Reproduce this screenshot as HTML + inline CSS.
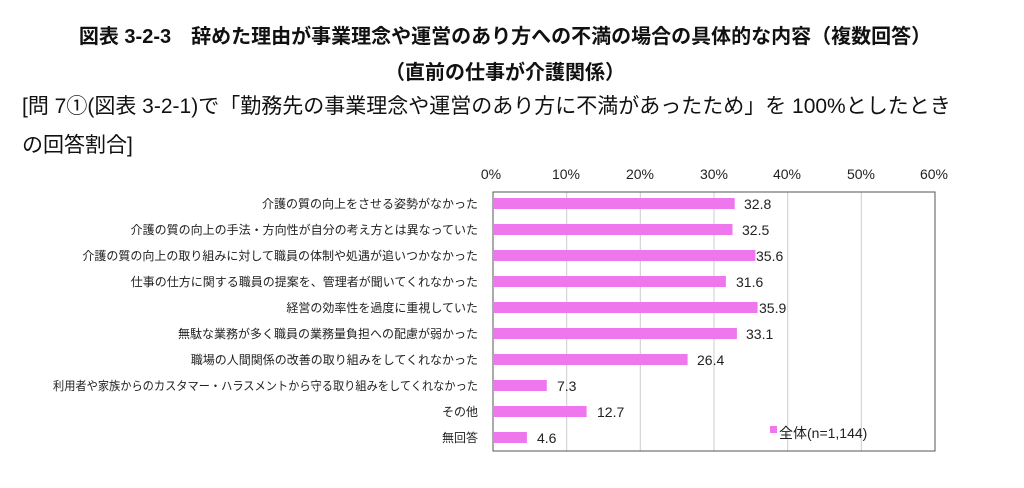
<!DOCTYPE html>
<html><head><meta charset="utf-8"><style>
body{margin:0;width:1024px;height:488px;background:#fff;font-family:"Liberation Sans","Noto Sans CJK JP",sans-serif;color:#111;position:relative;overflow:hidden}
.t{position:absolute;white-space:nowrap}
</style></head><body>
<div class="t" style="left:0;width:1010px;text-align:center;top:20px;font-size:20px;font-weight:bold">図表 3-2-3　辞めた理由が事業理念や運営のあり方への不満の場合の具体的な内容（複数回答）</div>
<div class="t" style="left:0;width:1010px;text-align:center;top:56px;font-size:20px;font-weight:bold">（直前の仕事が介護関係）</div>
<div class="t" style="left:22px;top:90px;font-size:21px">[問 7①(図表 3-2-1)で「勤務先の事業理念や運営のあり方に不満があったため」を 100%としたとき</div>
<div class="t" style="left:22px;top:129px;font-size:21px">の回答割合]</div>
<svg width="1024" height="488" style="position:absolute;left:0;top:0" font-family="Liberation Sans, Noto Sans CJK JP, sans-serif">
<g stroke="#ccc" stroke-width="1">
<line x1="566.7" y1="192" x2="566.7" y2="451"/><line x1="640.3" y1="192" x2="640.3" y2="451"/><line x1="714" y1="192" x2="714" y2="451"/><line x1="787.7" y1="192" x2="787.7" y2="451"/><line x1="861.3" y1="192" x2="861.3" y2="451"/>
</g>
<rect x="493" y="192" width="442" height="259" fill="none" stroke="#555" stroke-width="1"/>
<g font-size="14" text-anchor="middle" fill="#222">
<text x="491" y="179">0%</text><text x="566" y="179">10%</text><text x="640" y="179">20%</text><text x="714" y="179">30%</text><text x="787" y="179">40%</text><text x="861" y="179">50%</text><text x="934" y="179">60%</text>
</g>
<g fill="#ee77ee">
<rect x="493" y="198" width="241.7" height="11"/>
<rect x="493" y="224" width="239.5" height="11"/>
<rect x="493" y="250" width="262.4" height="11"/>
<rect x="493" y="276" width="232.9" height="11"/>
<rect x="493" y="302" width="264.6" height="11"/>
<rect x="493" y="328" width="243.9" height="11"/>
<rect x="493" y="354" width="194.6" height="11"/>
<rect x="493" y="380" width="53.8" height="11"/>
<rect x="493" y="406" width="93.6" height="11"/>
<rect x="493" y="432" width="33.9" height="11"/>
<rect x="770" y="426" width="7" height="7"/>
</g>
<g font-size="14" fill="#222">
<text x="744" y="209">32.8</text><text x="742" y="235">32.5</text><text x="756" y="261">35.6</text><text x="736" y="287">31.6</text><text x="759" y="313">35.9</text><text x="746" y="339">33.1</text><text x="697" y="365">26.4</text><text x="557" y="391">7.3</text><text x="597" y="417">12.7</text><text x="537" y="443">4.6</text>
<text x="779" y="438">全体(n=1,144)</text>
</g>
<g font-size="12" text-anchor="end" fill="#222">
<text x="478" y="208">介護の質の向上をさせる姿勢がなかった</text>
<text x="478" y="234">介護の質の向上の手法・方向性が自分の考え方とは異なっていた</text>
<text x="478" y="260">介護の質の向上の取り組みに対して職員の体制や処遇が追いつかなかった</text>
<text x="478" y="286">仕事の仕方に関する職員の提案を、管理者が聞いてくれなかった</text>
<text x="478" y="312">経営の効率性を過度に重視していた</text>
<text x="478" y="338">無駄な業務が多く職員の業務量負担への配慮が弱かった</text>
<text x="478" y="364">職場の人間関係の改善の取り組みをしてくれなかった</text>
<text x="478" y="390" textLength="425" lengthAdjust="spacingAndGlyphs">利用者や家族からのカスタマー・ハラスメントから守る取り組みをしてくれなかった</text>
<text x="478" y="416">その他</text>
<text x="478" y="442">無回答</text>
</g>
</svg>
</body></html>
